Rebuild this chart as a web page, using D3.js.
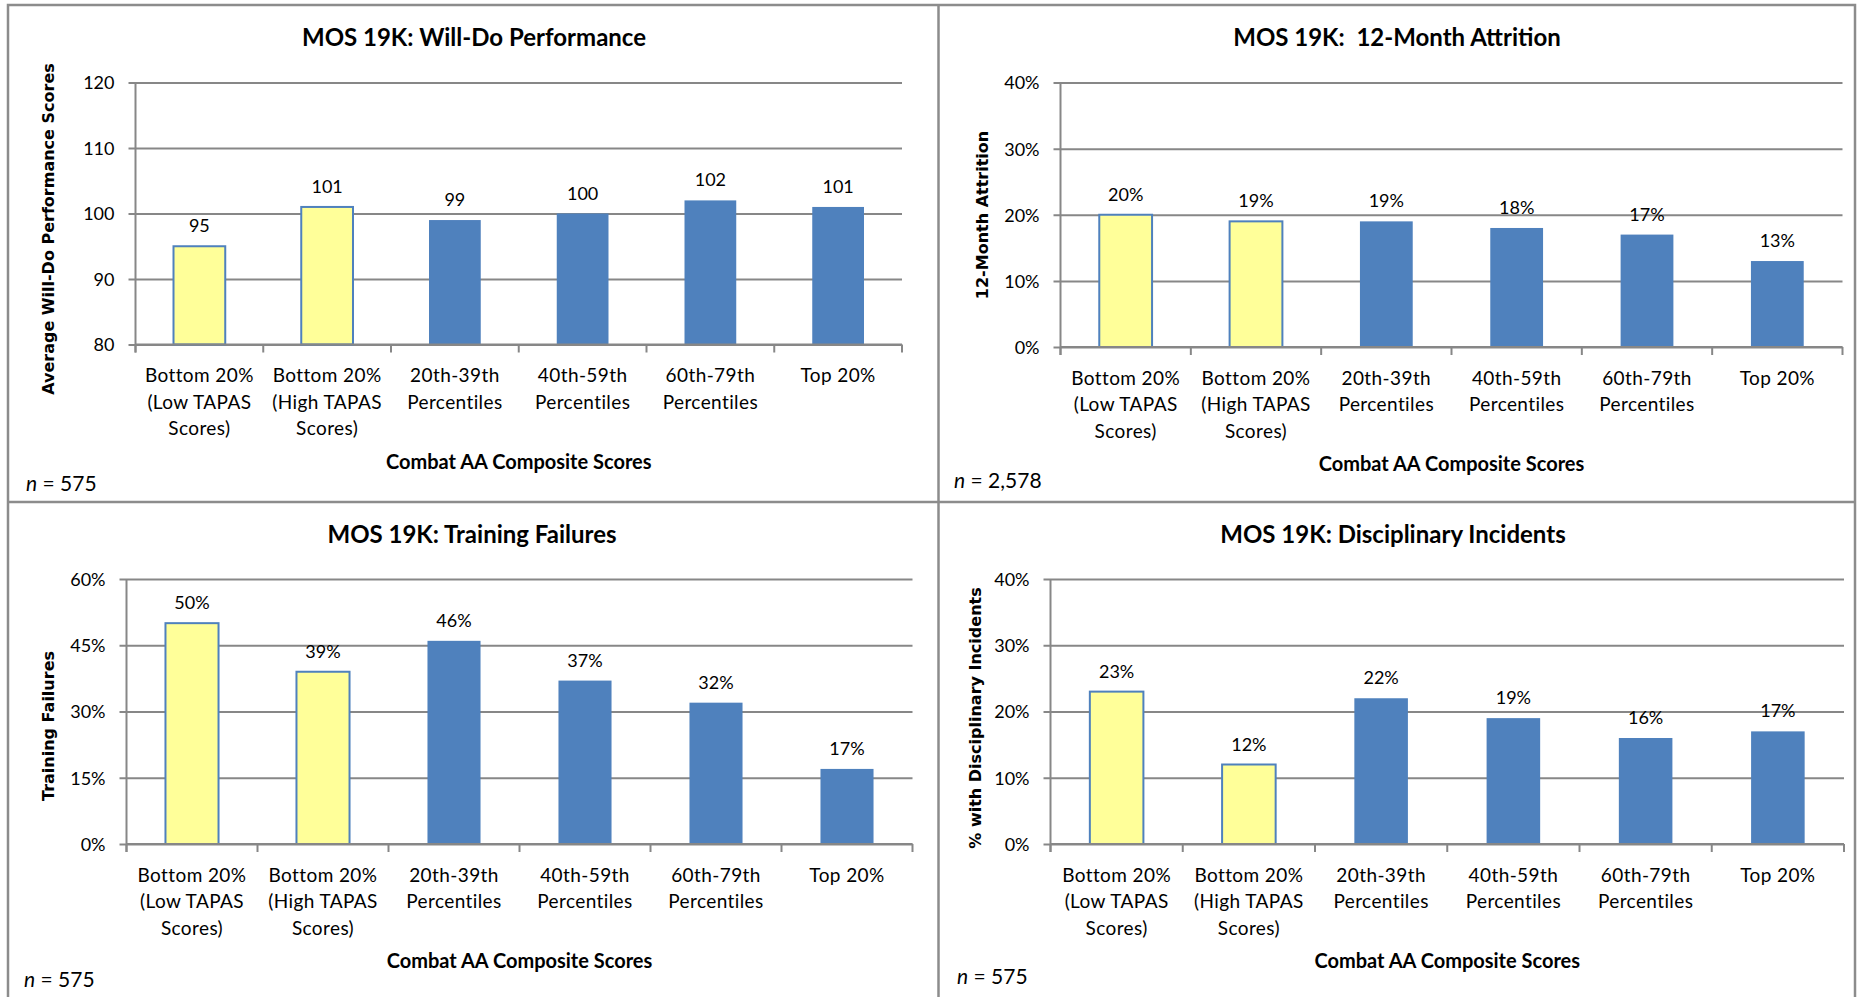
<!DOCTYPE html>
<html>
<head>
<meta charset="utf-8">
<script src="https://cdn.jsdelivr.net/npm/d3@7"></script>
<style>
  html, body { margin: 0; padding: 0; background: #ffffff; }
  svg { display: block; }
</style>
</head>
<body>
<svg id="chart" width="1857" height="997"></svg>
<script>
// ---- Data -------------------------------------------------------------
const categoryLines = [
  ["Bottom 20%", "(Low TAPAS", "Scores)"],
  ["Bottom 20%", "(High TAPAS", "Scores)"],
  ["20th-39th", "Percentiles"],
  ["40th-59th", "Percentiles"],
  ["60th-79th", "Percentiles"],
  ["Top 20%"]
];
const categories = categoryLines.map(l => l.join(" "));
const tapasGroup = [true, true, false, false, false, false];

const willDoValues      = [95, 101, 99, 100, 102, 101];
const attritionValues   = [20, 19, 19, 18, 17, 13];
const trainingValues    = [50, 39, 46, 37, 32, 17];
const disciplineValues  = [23, 12, 22, 19, 16, 17];

const willDoTicks     = [80, 90, 100, 110, 120];
const attritionTicks  = [0, 10, 20, 30, 40];
const trainingTicks   = [0, 15, 30, 45, 60];
const disciplineTicks = [0, 10, 20, 30, 40];

const xAxisTitle = "Combat AA Composite Scores";

// ---- Styling ----------------------------------------------------------
const BLUE = "#4F81BD";
const YELLOW = "#FFFF99";
const GRID = "#878787";
const FRAME = "#8c8c8c";
const LABEL_FONT = "Lato, 'Open Sans', sans-serif";
const AXIS_TITLE_FONT = "'DejaVu Sans', Verdana, sans-serif";

const svg = d3.select("#chart");

// Panel frames
svg.append("rect")
  .attr("x", 8).attr("y", 5).attr("width", 1847).attr("height", 1000)
  .attr("fill", "none").attr("stroke", FRAME).attr("stroke-width", 2.5);
svg.append("line").attr("x1", 938.5).attr("x2", 938.5).attr("y1", 5).attr("y2", 997)
  .attr("stroke", FRAME).attr("stroke-width", 2.5);
svg.append("line").attr("x1", 8).attr("x2", 1855).attr("y1", 502).attr("y2", 502)
  .attr("stroke", FRAME).attr("stroke-width", 2.5);

const panels = [
  { title: "MOS 19K: Will-Do Performance", yTitle: "Average Will-Do Performance Scores",
    values: willDoValues, ticks: willDoTicks, pct: false, n: "575",
    x0: 135.5, x1: 902, y0: 82.5, y1: 344.5, titleX: 474, titleY: 46,
    yTitleX: 48, yTitleY: 229, nX: 26, nY: 491 },
  { title: "MOS 19K:  12-Month Attrition", yTitle: "12-Month Attrition",
    values: attritionValues, ticks: attritionTicks, pct: true, n: "2,578",
    x0: 1060.5, x1: 1842.5, y0: 82.5, y1: 347, titleX: 1397, titleY: 46,
    yTitleX: 982, yTitleY: 215, nX: 954, nY: 488 },
  { title: "MOS 19K: Training Failures", yTitle: "Training Failures",
    values: trainingValues, ticks: trainingTicks, pct: true, n: "575",
    x0: 126.5, x1: 912.5, y0: 579, y1: 844, titleX: 472, titleY: 543,
    yTitleX: 48, yTitleY: 726, nX: 24, nY: 987 },
  { title: "MOS 19K: Disciplinary Incidents", yTitle: "% with Disciplinary Incidents",
    values: disciplineValues, ticks: disciplineTicks, pct: true, n: "575",
    x0: 1050.5, x1: 1844, y0: 579, y1: 844, titleX: 1393, titleY: 543,
    yTitleX: 975, yTitleY: 718, nX: 957, nY: 984 }
];

panels.forEach(drawPanel);

function drawPanel(p) {
  const g = svg.append("g");
  const fmt = p.pct ? (d => d + "%") : (d => String(d));

  const x = d3.scaleBand()
    .domain(categories)
    .range([p.x0, p.x1])
    .paddingInner(0.595)
    .paddingOuter(0.2975);
  const step = x.step();
  const y = d3.scaleLinear()
    .domain([d3.min(p.ticks), d3.max(p.ticks)])
    .range([p.y1, p.y0]);

  // Title
  g.append("text")
    .attr("x", p.titleX).attr("y", p.titleY)
    .attr("text-anchor", "middle")
    .attr("font-family", LABEL_FONT).attr("font-weight", "bold")
    .attr("font-size", 24).attr("fill", "#000")
    .style("white-space", "pre")
    .text(p.title);

  // Gridlines + y axis ticks/labels
  const yAxis = d3.axisLeft(y).tickValues(p.ticks).tickFormat(fmt)
    .tickSize(-(p.x1 - p.x0)).tickPadding(0);
  const ya = g.append("g").attr("transform", `translate(${p.x0},0)`).call(yAxis);
  ya.select(".domain").remove();
  ya.selectAll(".tick line")
    .attr("x1", -7)
    .attr("stroke", GRID).attr("stroke-width", 2);
  ya.selectAll(".tick text")
    .attr("x", -21)
    .attr("dy", "0.36em")
    .attr("font-family", LABEL_FONT).attr("font-size", 18).attr("fill", "#000");

  // Bars
  g.selectAll("rect.bar")
    .data(p.values)
    .join("rect")
    .attr("class", "bar")
    .attr("x", (d, i) => x(categories[i]))
    .attr("width", x.bandwidth())
    .attr("y", d => y(d))
    .attr("height", d => y(d3.min(p.ticks)) - y(d))
    .attr("fill", (d, i) => tapasGroup[i] ? YELLOW : BLUE)
    .attr("stroke", BLUE)
    .attr("stroke-width", (d, i) => tapasGroup[i] ? 2 : 0);

  // Value labels
  g.selectAll("text.val")
    .data(p.values)
    .join("text")
    .attr("class", "val")
    .attr("x", (d, i) => x(categories[i]) + x.bandwidth() / 2)
    .attr("y", d => y(d) - 14)
    .attr("text-anchor", "middle")
    .attr("font-family", LABEL_FONT).attr("font-size", 18).attr("fill", "#000")
    .text(fmt);

  // Vertical axis line
  g.append("line")
    .attr("x1", p.x0).attr("x2", p.x0)
    .attr("y1", p.y0).attr("y2", p.y1 + 8)
    .attr("stroke", GRID).attr("stroke-width", 2);

  // Horizontal axis with ticks at category boundaries
  const bounds = d3.range(categories.length + 1).map(i => p.x0 + i * step);
  g.selectAll("line.xtick")
    .data(bounds)
    .join("line")
    .attr("class", "xtick")
    .attr("x1", d => d).attr("x2", d => d)
    .attr("y1", p.y1).attr("y2", p.y1 + 8)
    .attr("stroke", GRID).attr("stroke-width", 2);
  g.append("line")
    .attr("x1", p.x0).attr("x2", p.x1)
    .attr("y1", p.y1).attr("y2", p.y1)
    .attr("stroke", GRID).attr("stroke-width", 2);

  // Category labels
  const cl = g.selectAll("text.cat")
    .data(categoryLines)
    .join("text")
    .attr("class", "cat")
    .attr("text-anchor", "middle")
    .attr("font-family", LABEL_FONT).attr("font-size", 19).attr("fill", "#000")
    .attr("letter-spacing", 0.4);
  cl.each(function(lines, i) {
    const cx = x(categories[i]) + x.bandwidth() / 2;
    d3.select(this).selectAll("tspan")
      .data(lines)
      .join("tspan")
      .attr("x", cx)
      .attr("y", (d, j) => p.y1 + 37.5 + j * 26.5)
      .text(d => d);
  });

  // X axis title
  g.append("text")
    .attr("x", (p.x0 + p.x1) / 2).attr("y", p.y1 + 124)
    .attr("text-anchor", "middle")
    .attr("font-family", LABEL_FONT).attr("font-weight", "bold")
    .attr("font-size", 20).attr("fill", "#000")
    .text(xAxisTitle);

  // Y axis title
  g.append("text")
    .attr("transform", `translate(${p.yTitleX + 6},${p.yTitleY}) rotate(-90)`)
    .attr("text-anchor", "middle")
    .attr("font-family", AXIS_TITLE_FONT).attr("font-weight", "bold")
    .attr("font-size", 16).attr("fill", "#000")
    .text(p.yTitle);

  // Sample size note
  const nt = g.append("text")
    .attr("x", p.nX).attr("y", p.nY)
    .attr("font-family", LABEL_FONT).attr("font-size", 21).attr("fill", "#000");
  nt.append("tspan").attr("font-style", "italic").text("n");
  nt.append("tspan").text(" = " + p.n);
}
</script>
</body>
</html>
